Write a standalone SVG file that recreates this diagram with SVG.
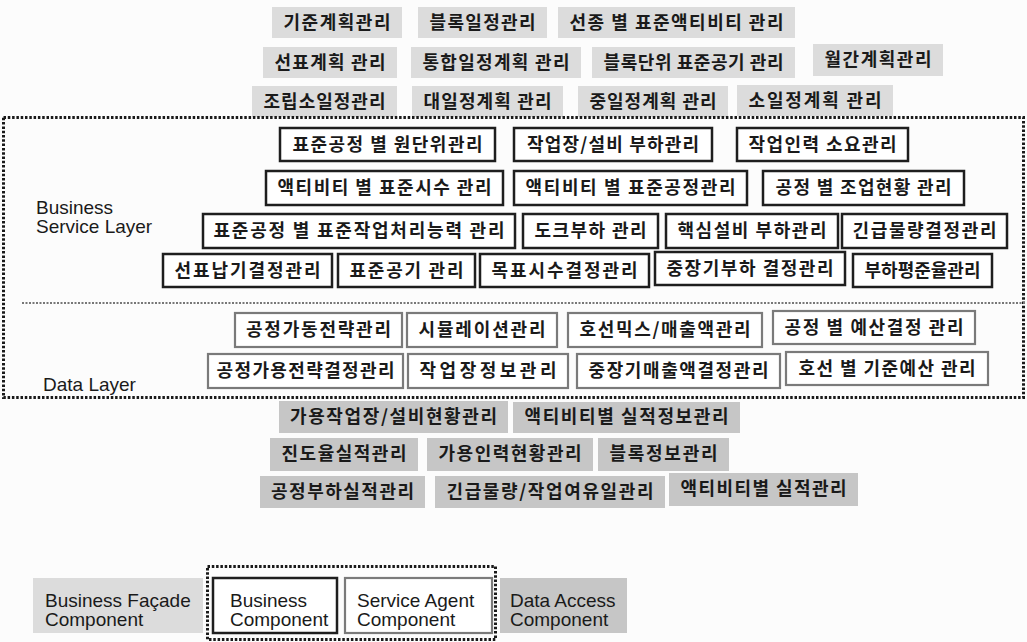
<svg xmlns="http://www.w3.org/2000/svg" width="1027" height="642" viewBox="0 0 1027 642">
<style>
.k{font-family:"Noto Sans CJK KR","Noto Sans",sans-serif;font-weight:bold;font-size:18px;fill:#1a1a1a;text-anchor:middle}
.l{font-family:"Liberation Sans",Arial,sans-serif;font-size:19px;fill:#1a1a1a}
.fa{fill:#dcdcdc}
.da{fill:#c6c6c6}
.bc{fill:#fff;stroke:#1e1e1e;stroke-width:2.5}
.sa{fill:#fff;stroke:#7a7a7a;stroke-width:2.2}
.dot{fill:none;stroke:#1a1a1a;stroke-width:3;stroke-dasharray:2.5 1.8}
.dot2{fill:none;stroke:#777;stroke-width:2;stroke-dasharray:2 1.5}
</style>
<rect width="1027" height="642" fill="#fcfcfc"/>

<!-- Business Facade (top) -->
<g id="f1"><rect class="fa" x="272" y="7" width="130" height="31"/><text class="k" x="337" y="29" textLength="107" lengthAdjust="spacing">기준계획관리</text></g>
<g id="f2"><rect class="fa" x="418" y="7" width="129" height="31"/><text class="k" x="482.5" y="29" textLength="106" lengthAdjust="spacing">블록일정관리</text></g>
<g id="f3"><rect class="fa" x="558" y="7" width="237" height="31"/><text class="k" x="676.5" y="29" textLength="214" lengthAdjust="spacing">선종 별 표준액티비티 관리</text></g>
<g id="f4"><rect class="fa" x="263" y="47" width="134" height="31"/><text class="k" x="330" y="69" textLength="111" lengthAdjust="spacing">선표계획 관리</text></g>
<g id="f5"><rect class="fa" x="411" y="47" width="170" height="31"/><text class="k" x="496" y="69" textLength="147" lengthAdjust="spacing">통합일정계획 관리</text></g>
<g id="f6"><rect class="fa" x="592" y="47" width="203" height="31"/><text class="k" x="693.5" y="69" textLength="180" lengthAdjust="spacing">블록단위 표준공기 관리</text></g>
<g id="f7"><rect class="fa" x="813" y="44" width="130" height="32"/><text class="k" x="878" y="66" textLength="107" lengthAdjust="spacing">월간계획관리</text></g>
<g id="f8"><rect class="fa" x="252" y="86" width="145" height="31"/><text class="k" x="324.5" y="108" textLength="122" lengthAdjust="spacing">조립소일정관리</text></g>
<g id="f9"><rect class="fa" x="412" y="86" width="151" height="31"/><text class="k" x="487.5" y="108" textLength="128" lengthAdjust="spacing">대일정계획 관리</text></g>
<g id="f10"><rect class="fa" x="578" y="86" width="150" height="31"/><text class="k" x="653" y="108" textLength="127" lengthAdjust="spacing">중일정계획 관리</text></g>
<g id="f11"><rect class="fa" x="737" y="85" width="156" height="31"/><text class="k" x="815" y="107" textLength="133" lengthAdjust="spacing">소일정계획 관리</text></g>

<!-- Layer frames -->
<g id="layers">
<rect class="dot" x="3.5" y="117.5" width="1020" height="280"/>
<line class="dot2" x1="22" y1="303" x2="1025" y2="303"/>
<text class="l" x="36" y="214">Business</text>
<text class="l" x="36" y="233">Service Layer</text>
<text class="l" x="43" y="391">Data Layer</text>
</g>

<!-- Business components -->
<g id="b1"><rect class="bc" x="280" y="128" width="215" height="33"/><text class="k" x="387.5" y="151" textLength="190" lengthAdjust="spacing">표준공정 별 원단위관리</text></g>
<g id="b2"><rect class="bc" x="514" y="128" width="198" height="33"/><text class="k" x="613" y="151" textLength="172" lengthAdjust="spacing">작업장/설비 부하관리</text></g>
<g id="b3"><rect class="bc" x="737" y="128" width="171" height="33"/><text class="k" x="822.5" y="151" textLength="148" lengthAdjust="spacing">작업인력 소요관리</text></g>
<g id="b4"><rect class="bc" x="266" y="171" width="237" height="34"/><text class="k" x="384.5" y="194" textLength="214" lengthAdjust="spacing">액티비티 별 표준시수 관리</text></g>
<g id="b5"><rect class="bc" x="514" y="171" width="233" height="34"/><text class="k" x="630.5" y="194" textLength="210" lengthAdjust="spacing">액티비티 별 표준공정관리</text></g>
<g id="b6"><rect class="bc" x="763" y="171" width="201" height="34"/><text class="k" x="863.5" y="194" textLength="176" lengthAdjust="spacing">공정 별 조업현황 관리</text></g>
<g id="b7"><rect class="bc" x="203" y="214" width="312" height="34"/><text class="k" x="359" y="237" textLength="291" lengthAdjust="spacing">표준공정 별 표준작업처리능력 관리</text></g>
<g id="b8"><rect class="bc" x="523" y="214" width="135" height="34"/><text class="k" x="590.5" y="237" textLength="112" lengthAdjust="spacing">도크부하 관리</text></g>
<g id="b9"><rect class="bc" x="666" y="214" width="172" height="34"/><text class="k" x="752" y="237" textLength="149" lengthAdjust="spacing">핵심설비 부하관리</text></g>
<g id="b10"><rect class="bc" x="842" y="214" width="165" height="34"/><text class="k" x="924.5" y="237" textLength="144" lengthAdjust="spacing">긴급물량결정관리</text></g>
<g id="b11"><rect class="bc" x="163" y="254" width="169" height="33"/><text class="k" x="247.5" y="277" textLength="146" lengthAdjust="spacing">선표납기결정관리</text></g>
<g id="b12"><rect class="bc" x="338" y="254" width="137" height="33"/><text class="k" x="406.5" y="277" textLength="114" lengthAdjust="spacing">표준공기 관리</text></g>
<g id="b13"><rect class="bc" x="480" y="254" width="169" height="33"/><text class="k" x="564.5" y="277" textLength="146" lengthAdjust="spacing">목표시수결정관리</text></g>
<g id="b14"><rect class="bc" x="655" y="252" width="190" height="33"/><text class="k" x="750" y="275" textLength="167" lengthAdjust="spacing">중장기부하 결정관리</text></g>
<g id="b15"><rect class="bc" x="853" y="254" width="139" height="33"/><text class="k" x="922.5" y="277" textLength="116" lengthAdjust="spacing">부하평준율관리</text></g>

<!-- Service agent components -->
<g id="s1"><rect class="sa" x="235" y="313" width="167" height="34"/><text class="k" x="318.5" y="336" textLength="145" lengthAdjust="spacing">공정가동전략관리</text></g>
<g id="s2"><rect class="sa" x="407" y="313" width="150" height="34"/><text class="k" x="482" y="336" textLength="127" lengthAdjust="spacing">시뮬레이션관리</text></g>
<g id="s3"><rect class="sa" x="568" y="313" width="194" height="34"/><text class="k" x="665" y="336" textLength="171" lengthAdjust="spacing">호선믹스/매출액관리</text></g>
<g id="s4"><rect class="sa" x="773" y="311" width="202" height="33"/><text class="k" x="874" y="334" textLength="179" lengthAdjust="spacing">공정 별 예산결정 관리</text></g>
<g id="s5"><rect class="sa" x="208" y="354" width="195" height="34"/><text class="k" x="305.5" y="377" textLength="178" lengthAdjust="spacing">공정가용전략결정관리</text></g>
<g id="s6"><rect class="sa" x="408" y="354" width="160" height="34"/><text class="k" x="488" y="377" textLength="137" lengthAdjust="spacing">작업장정보관리</text></g>
<g id="s7"><rect class="sa" x="577" y="354" width="203" height="34"/><text class="k" x="678.5" y="377" textLength="180" lengthAdjust="spacing">중장기매출액결정관리</text></g>
<g id="s8"><rect class="sa" x="786" y="352" width="202" height="33"/><text class="k" x="887" y="375" textLength="177" lengthAdjust="spacing">호선 별 기준예산 관리</text></g>

<!-- Data access components -->
<g id="d1"><rect class="da" x="279" y="401" width="229" height="32"/><text class="k" x="393.5" y="423" textLength="207" lengthAdjust="spacing">가용작업장/설비현황관리</text></g>
<g id="d2"><rect class="da" x="513" y="402" width="227" height="31"/><text class="k" x="626.5" y="423" textLength="204" lengthAdjust="spacing">액티비티별 실적정보관리</text></g>
<g id="d3"><rect class="da" x="270" y="438" width="148" height="33"/><text class="k" x="344" y="460" textLength="125" lengthAdjust="spacing">진도율실적관리</text></g>
<g id="d4"><rect class="da" x="427" y="438" width="166" height="33"/><text class="k" x="510" y="460" textLength="143" lengthAdjust="spacing">가용인력현황관리</text></g>
<g id="d5"><rect class="da" x="598" y="438" width="131" height="33"/><text class="k" x="663.5" y="460" textLength="108" lengthAdjust="spacing">블록정보관리</text></g>
<g id="d6"><rect class="da" x="260" y="476" width="165" height="32"/><text class="k" x="342.5" y="498" textLength="143" lengthAdjust="spacing">공정부하실적관리</text></g>
<g id="d7"><rect class="da" x="435" y="476" width="230" height="32"/><text class="k" x="550" y="498" textLength="207" lengthAdjust="spacing">긴급물량/작업여유일관리</text></g>
<g id="d8"><rect class="da" x="669" y="473" width="189" height="33"/><text class="k" x="763.5" y="495" textLength="166" lengthAdjust="spacing">액티비티별 실적관리</text></g>

<!-- Legend -->
<g id="legend-facade"><rect class="fa" x="33" y="578" width="170" height="55"/><text class="l" x="45" y="607">Business Façade</text><text class="l" x="45" y="626">Component</text></g>
<rect class="dot" x="207.5" y="566.5" width="288" height="73"/>
<g id="legend-business"><rect class="bc" x="213" y="578" width="124" height="55"/><text class="l" x="230" y="607">Business</text><text class="l" x="230" y="626">Component</text></g>
<g id="legend-agent"><rect class="sa" x="345" y="578" width="147" height="55"/><text class="l" x="357" y="607">Service Agent</text><text class="l" x="357" y="626">Component</text></g>
<g id="legend-data"><rect class="da" x="500" y="578" width="127" height="55"/><text class="l" x="510" y="607">Data Access</text><text class="l" x="510" y="626">Component</text></g>
</svg>
